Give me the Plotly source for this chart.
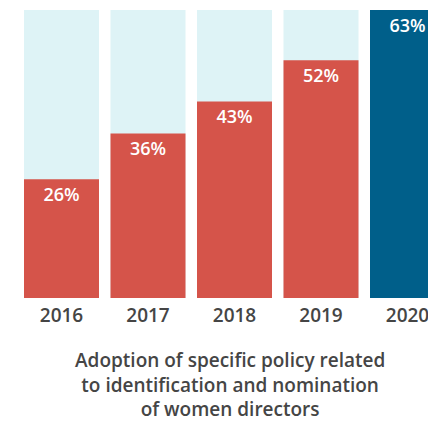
import plotly.graph_objects as go

years = ["2016", "2017", "2018", "2019", "2020"]
adoption_pct = [26, 36, 43, 52, 63]
title_lines = [
    "Adoption of specific policy related",
    "to identification and nomination",
    "of women directors",
]

RED = "#D5544A"
DARK_BLUE = "#005F8A"
LIGHT_BLUE = "#DEF3F6"
TEXT_GREY = "#454545"
FONT = "Open Sans"

W, H = 428, 423
top_px, bottom_px = 10, 298

peak = max(adoption_pct)
bar_colors = [DARK_BLUE if v == peak else RED for v in adoption_pct]

fig = go.Figure()

# pale backdrop column reaching the top of the scale
fig.add_trace(go.Bar(
    x=years, y=[peak] * len(years),
    marker=dict(color=LIGHT_BLUE, line=dict(width=0)),
    hoverinfo="skip", showlegend=False,
))

# adoption share per year
fig.add_trace(go.Bar(
    x=years, y=adoption_pct,
    marker=dict(color=bar_colors, line=dict(width=0)),
    texttemplate="%{y}%",
    textposition="inside",
    insidetextanchor="end",
    textangle=0,
    textfont=dict(family=FONT, size=18, color="white", weight=600),
    showlegend=False,
))

fig.update_layout(
    width=W, height=H,
    margin=dict(l=0, r=0, t=top_px, b=H - bottom_px, pad=0),
    paper_bgcolor="white", plot_bgcolor="white",
    barmode="overlay",
    bargap=0.133,
    xaxis=dict(
        type="category",
        range=[-0.711, 4.237],
        showgrid=False, zeroline=False, showline=False,
        ticks="", ticklabelstandoff=4,
        tickfont=dict(family=FONT, size=19, color=TEXT_GREY, weight=600),
        fixedrange=True,
    ),
    yaxis=dict(
        range=[0, peak],
        visible=False,
        fixedrange=True,
    ),
)

# three-line caption under the axis
caption_bottom_px = 423
fig.add_annotation(
    text="<br>".join(title_lines), xref="paper", yref="paper",
    x=230 / W, y=(bottom_px - caption_bottom_px) / (bottom_px - top_px),
    showarrow=False, align="center", borderpad=0,
    font=dict(family=FONT, size=19, color=TEXT_GREY, weight=600),
    xanchor="center", yanchor="bottom",
)

fig.write_html("out.html")
